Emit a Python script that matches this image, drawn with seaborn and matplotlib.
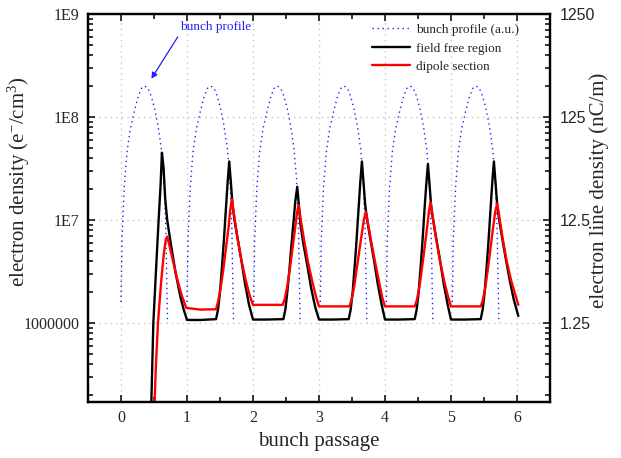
import matplotlib
matplotlib.use("Agg")
import numpy as np
import pandas as pd
import matplotlib.pyplot as plt
import seaborn as sns
from matplotlib.lines import Line2D
from matplotlib.ticker import FixedLocator, FixedFormatter, NullFormatter, MultipleLocator

# ---- data -------------------------------------------------------------
# bunch profile (a.u.), one bump per bunch: offset from bunch start and value
profile_dx = [0.00, 0.015, 0.03, 0.05, 0.09, 0.14, 0.20, 0.26, 0.31, 0.36,
              0.41, 0.46, 0.51, 0.56, 0.61, 0.65, 0.68, 0.705]
profile_val = [1.6e6, 6.3e6, 1.1e7, 2.1e7, 4.5e7, 7.6e7, 1.12e8, 1.58e8, 1.9e8, 2.0e8,
               1.9e8, 1.58e8, 1.2e8, 8.3e7, 5.0e7, 2.5e7, 7.9e6, 1.0e6]
bunch_start = [0.0, 1.0, 2.01, 3.02, 4.02, 5.02]

# electron density, field free region
ff_x = [0.455, 0.49, 0.53, 0.57, 0.60, 0.62, 0.645, 0.67, 0.70, 0.76, 0.83, 0.90, 0.95, 1.00,
        1.20, 1.44, 1.47, 1.50, 1.53, 1.56, 1.59, 1.615, 1.64, 1.665, 1.69, 1.72, 1.76,
        1.82, 1.88, 1.94, 2.00,
        2.20, 2.46, 2.49, 2.52, 2.55, 2.58, 2.61, 2.64, 2.67, 2.695, 2.72, 2.76,
        2.82, 2.88, 2.94, 3.00,
        3.20, 3.45, 3.48, 3.51, 3.54, 3.57, 3.60, 3.625, 3.65, 3.675, 3.70, 3.73, 3.77,
        3.83, 3.89, 3.95, 4.00,
        4.20, 4.45, 4.48, 4.51, 4.54, 4.57, 4.60, 4.625, 4.65, 4.675, 4.70, 4.73, 4.77,
        4.83, 4.89, 4.95, 5.00,
        5.20, 5.45, 5.48, 5.51, 5.54, 5.57, 5.60, 5.625, 5.65, 5.675, 5.70, 5.73, 5.77,
        5.83, 5.89, 5.95, 6.02]
ff_y = [1.3e5, 1.0e6, 3.2e6, 1.0e7, 2.2e7, 4.5e7, 3.2e7, 1.6e7, 1.0e7, 5.6e6, 3.0e6, 1.8e6, 1.35e6, 1.07e6,
        1.07e6, 1.09e6, 1.35e6, 2.0e6, 3.5e6, 6.5e6, 1.3e7, 2.3e7, 3.7e7, 2.3e7, 1.4e7, 1.0e7, 7.0e6,
        4.2e6, 2.4e6, 1.5e6, 1.08e6,
        1.08e6, 1.09e6, 1.35e6, 2.0e6, 3.2e6, 5.5e6, 9.0e6, 1.5e7, 2.1e7, 1.4e7, 9.0e6, 6.0e6,
        3.7e6, 2.2e6, 1.45e6, 1.08e6,
        1.08e6, 1.09e6, 1.35e6, 2.0e6, 3.5e6, 6.5e6, 1.3e7, 2.3e7, 3.7e7, 2.3e7, 1.4e7, 1.0e7, 7.0e6,
        4.2e6, 2.4e6, 1.5e6, 1.08e6,
        1.08e6, 1.09e6, 1.35e6, 2.0e6, 3.5e6, 6.5e6, 1.3e7, 2.2e7, 3.5e7, 2.2e7, 1.35e7, 1.0e7, 7.0e6,
        4.2e6, 2.4e6, 1.5e6, 1.08e6,
        1.08e6, 1.09e6, 1.35e6, 2.0e6, 3.5e6, 6.5e6, 1.3e7, 2.3e7, 3.7e7, 2.3e7, 1.4e7, 1.0e7, 7.0e6,
        4.2e6, 2.6e6, 1.7e6, 1.17e6]

# electron density, dipole section
dp_x = [0.50, 0.53, 0.56, 0.61, 0.65, 0.68, 0.70, 0.73, 0.78, 0.85, 0.92, 0.99,
        1.20, 1.44, 1.47, 1.51, 1.55, 1.59, 1.63, 1.655, 1.68, 1.71, 1.76, 1.82, 1.89, 1.95, 2.00,
        2.20, 2.45, 2.48, 2.52, 2.56, 2.60, 2.64, 2.665, 2.69, 2.72, 2.77, 2.83, 2.90, 2.96, 3.00,
        3.20, 3.46, 3.49, 3.53, 3.57, 3.61, 3.65, 3.68, 3.71, 3.74, 3.79, 3.85, 3.91, 3.96, 4.00,
        4.20, 4.45, 4.48, 4.52, 4.56, 4.60, 4.64, 4.665, 4.69, 4.72, 4.77, 4.83, 4.90, 4.96, 5.00,
        5.20, 5.45, 5.48, 5.52, 5.56, 5.60, 5.64, 5.67, 5.70, 5.73, 5.78, 5.84, 5.91, 6.02]
dp_y = [1.2e5, 4.0e5, 1.0e6, 2.6e6, 4.8e6, 6.5e6, 6.9e6, 5.8e6, 4.2e6, 2.7e6, 1.85e6, 1.4e6,
        1.35e6, 1.36e6, 1.6e6, 2.2e6, 3.3e6, 5.3e6, 8.5e6, 1.25e7, 1.6e7, 1.15e7, 7.0e6, 4.2e6, 2.6e6, 1.85e6, 1.5e6,
        1.5e6, 1.5e6, 1.7e6, 2.3e6, 3.4e6, 5.4e6, 8.5e6, 1.15e7, 1.4e7, 1.05e7, 6.6e6, 4.0e6, 2.5e6, 1.75e6, 1.45e6,
        1.45e6, 1.45e6, 1.65e6, 2.2e6, 3.3e6, 5.0e6, 7.5e6, 1.0e7, 1.2e7, 9.5e6, 6.2e6, 3.9e6, 2.5e6, 1.75e6, 1.45e6,
        1.45e6, 1.45e6, 1.65e6, 2.2e6, 3.4e6, 5.4e6, 8.7e6, 1.2e7, 1.5e7, 1.1e7, 6.8e6, 4.1e6, 2.5e6, 1.75e6, 1.45e6,
        1.45e6, 1.45e6, 1.65e6, 2.2e6, 3.4e6, 5.4e6, 8.7e6, 1.2e7, 1.45e7, 1.1e7, 6.8e6, 4.1e6, 2.6e6, 1.5e6]

x_ticks = [0, 1, 2, 3, 4, 5, 6]
y_ticks = [1e6, 1e7, 1e8, 1e9]
y_tick_labels = ["1000000", "1E7", "1E8", "1E9"]
line_ticks = [1.25, 12.5, 125, 1250]
line_tick_labels = ["1.25", "12.5", "125", "1250"]
line_per_density = 1.25e-6  # nC/m per e-/cm^3

# ---- style ------------------------------------------------------------
sns.set_style("ticks")
plt.rcParams["font.family"] = ["Liberation Serif", "DejaVu Serif"]
plt.rcParams["mathtext.fontset"] = "custom"
plt.rcParams["mathtext.rm"] = "Liberation Serif"
plt.rcParams["mathtext.default"] = "regular"

fig, ax = plt.subplots(figsize=(6.21, 4.58), dpi=100)
fig.subplots_adjust(left=88 / 621, right=550 / 621, top=1 - 14 / 458, bottom=1 - 402 / 458)

prof = pd.DataFrame(
    [(b, s + dx, v) for b, s in enumerate(bunch_start) for dx, v in zip(profile_dx, profile_val)],
    columns=["bunch", "passage", "density"],
)
sns.lineplot(data=prof, x="passage", y="density", units="bunch", estimator=None, sort=False,
             color="#2020ff", lw=1.0, linestyle=(0, (1, 2.6)), ax=ax, legend=False)

ff = pd.DataFrame({"passage": ff_x, "density": ff_y})
dp = pd.DataFrame({"passage": dp_x, "density": dp_y})
sns.lineplot(data=ff, x="passage", y="density", estimator=None, sort=False,
             color="black", lw=1.7, ax=ax, legend=False)
sns.lineplot(data=dp, x="passage", y="density", estimator=None, sort=False,
             color="#ff0000", lw=1.7, ax=ax, legend=False)

ax.set_yscale("log")
ax.set_xlim(-0.5, 6.5)
ymin, ymax = 1.71e5, 1e9
ax.set_ylim(ymin, ymax)

ax.xaxis.set_major_locator(FixedLocator(x_ticks))
ax.xaxis.set_minor_locator(MultipleLocator(0.5))
ax.yaxis.set_major_locator(FixedLocator(y_ticks))
ax.yaxis.set_major_formatter(FixedFormatter(y_tick_labels))
minor_left = [m * 10.0 ** k for k in range(5, 9) for m in range(2, 10)]
ax.yaxis.set_minor_locator(FixedLocator(minor_left))
ax.yaxis.set_minor_formatter(NullFormatter())

ax.grid(True, which="major", color="#c4c4c4", linestyle=(0, (1, 3)), lw=1)
ax.set_axisbelow(True)
ax.tick_params(which="both", direction="in", top=True, right=False, width=1.3, labelsize=11.5)
ax.tick_params(which="major", length=5)
ax.tick_params(which="minor", length=3.5)
ax.tick_params(axis="x", pad=6)
ax.tick_params(axis="y", pad=6)

ax.set_xlabel("bunch passage", fontsize=15, labelpad=4)
ax.set_ylabel("electron density (e$^{-}$/cm$^{3}$)", fontsize=15)
ax.yaxis.set_label_coords(-0.122, 0.567)

ax2 = ax.twinx()
ax2.set_yscale("log")
ax2.set_ylim(ymin * line_per_density, ymax * line_per_density)
ax2.yaxis.set_major_locator(FixedLocator(line_ticks))
ax2.yaxis.set_major_formatter(FixedFormatter(line_tick_labels))
ax2.yaxis.set_minor_locator(FixedLocator([v * line_per_density for v in minor_left]))
ax2.yaxis.set_minor_formatter(NullFormatter())
ax2.tick_params(which="both", direction="in", width=1.3, pad=7)
ax2.tick_params(which="major", length=5)
ax2.tick_params(which="minor", length=3.5)
for lab in ax2.get_yticklabels():
    lab.set_fontfamily("Liberation Sans")
    lab.set_fontsize(11.5)
ax2.set_ylabel("electron line density (nC/m)", fontsize=15)
ax2.yaxis.set_label_coords(1.085, 0.546)

for a in (ax, ax2):
    for sp in a.spines.values():
        sp.set_linewidth(1.6)
        sp.set_color("black")

# annotation pointing at the first bunch
ax.text(1.43, 7.4e8, "bunch profile", color="#2020ff", fontsize=9.5, ha="center", va="center")
ax.annotate("", xy=(0.46, 2.35e8), xytext=(0.86, 6.0e8),
            arrowprops=dict(arrowstyle="-|>", color="#2020ff", lw=0.9,
                            mutation_scale=9, shrinkA=0, shrinkB=0))

handles = [
    Line2D([], [], color="#2020ff", lw=1.0, linestyle=(0, (1, 2.6))),
    Line2D([], [], color="black", lw=1.7),
    Line2D([], [], color="#ff0000", lw=1.7),
]
labels = ["bunch profile (a.u.)", "field free region", "dipole section"]
ax2.legend(handles, labels, loc="upper left", bbox_to_anchor=(0.615, 0.975), frameon=False,
           fontsize=9.5, handlelength=2.9, handletextpad=0.4, labelspacing=0.48,
           borderaxespad=0, borderpad=0)

fig.savefig("out.png", dpi=100)
